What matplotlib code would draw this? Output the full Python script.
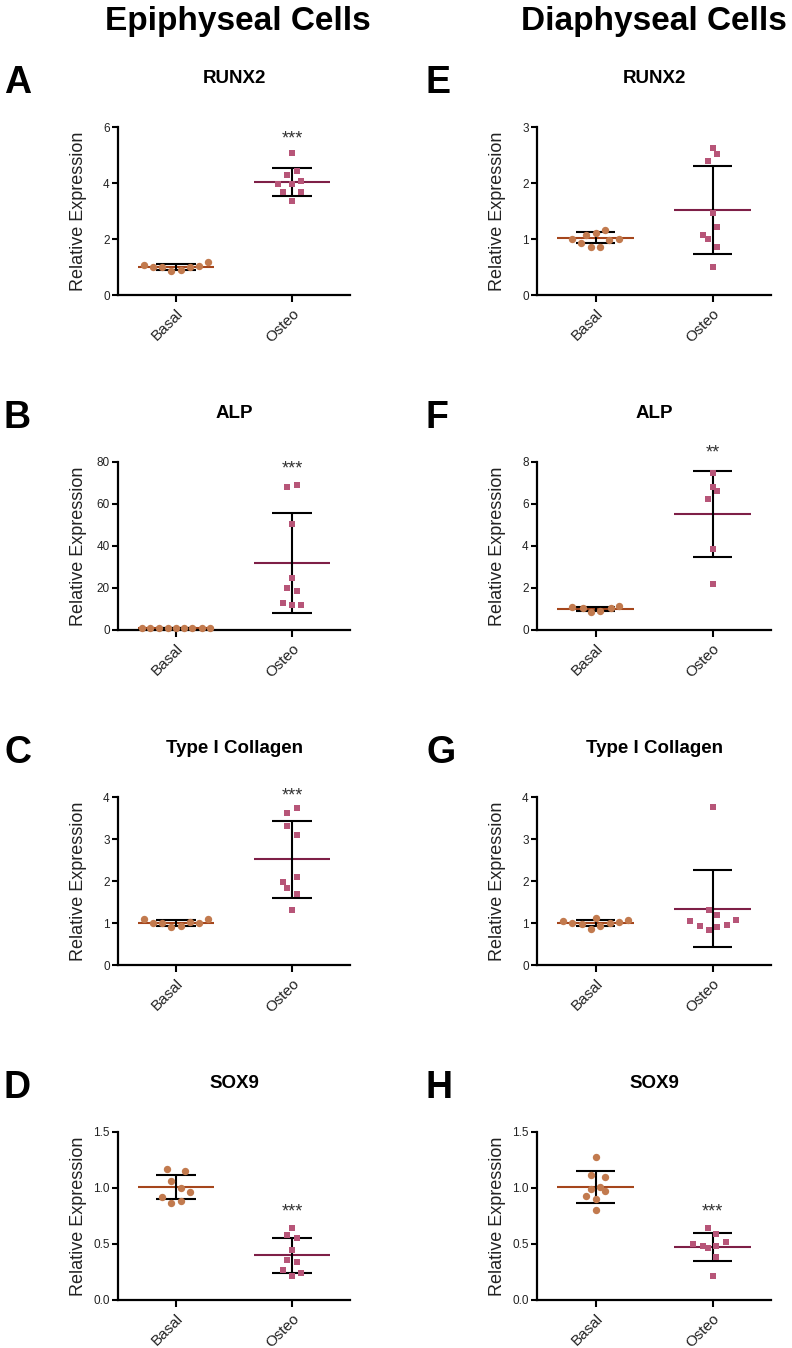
import numpy as np
import matplotlib
matplotlib.use('Agg')
import matplotlib.pyplot as plt
from matplotlib.ticker import MultipleLocator, FormatStrFormatter

plt.rcParams['font.family'] = ['Liberation Sans', 'DejaVu Sans']

GROUPS = ['Basal', 'Osteo']
GENES = ['RUNX2', 'ALP', 'Type I Collagen', 'SOX9']
HEADERS = ['Epiphyseal Cells', 'Diaphyseal Cells']
LETTERS = [['A', 'B', 'C', 'D'], ['E', 'F', 'G', 'H']]

# ── Epiphyseal (A-D): individual values ────────────────────────────────────
epi_runx2_basal = [1.06, 1.00, 1.00, 0.85, 0.90, 1.00, 1.02, 1.18]
epi_runx2_osteo = [5.07, 4.30, 4.42, 3.96, 3.95, 4.06, 3.68, 3.68, 3.37]
epi_alp_basal   = [1.05, 0.95, 1.10, 0.90, 1.00, 1.05, 0.95, 1.02, 0.98]
epi_alp_osteo   = [68.0, 69.0, 50.4, 25.0, 20.0, 18.8, 12.7, 11.8, 12.0]
epi_col1_basal  = [1.09, 1.00, 1.00, 0.90, 0.94, 1.02, 1.00, 1.10]
epi_col1_osteo  = [3.74, 3.62, 3.32, 3.10, 2.10, 1.98, 1.84, 1.69, 1.31]
epi_sox9_basal  = [1.17, 1.15, 1.06, 1.00, 0.92, 0.96, 0.87, 0.88]
epi_sox9_osteo  = [0.64, 0.58, 0.55, 0.45, 0.36, 0.34, 0.27, 0.21, 0.24]

# ── Diaphyseal (E-H): individual values ────────────────────────────────────
dia_runx2_basal = [1.00, 1.07, 1.10, 1.16, 0.93, 0.85, 0.85, 0.99, 1.00]
dia_runx2_osteo = [2.62, 2.51, 2.40, 1.46, 1.22, 1.07, 1.00, 0.85, 0.50]
dia_alp_basal   = [1.08, 1.03, 0.87, 0.92, 1.05, 1.12]
dia_alp_osteo   = [7.50, 6.79, 6.60, 6.25, 3.85, 2.18]
dia_col1_basal  = [1.04, 1.00, 0.97, 1.13, 0.85, 0.92, 1.00, 1.02, 1.08]
dia_col1_osteo  = [3.76, 1.32, 1.20, 1.04, 1.08, 0.93, 0.96, 0.84, 0.90]
dia_sox9_basal  = [1.28, 1.12, 1.10, 0.99, 1.01, 0.97, 0.93, 0.90, 0.80]
dia_sox9_osteo  = [0.64, 0.59, 0.50, 0.48, 0.46, 0.48, 0.52, 0.38, 0.21]

# horizontal scatter spread of the dots (category units)
epi_runx2_basal_dx = [-0.28, -0.20, -0.12, -0.04, 0.04, 0.12, 0.20, 0.28]
epi_runx2_osteo_dx = [0, -0.04, 0.04, -0.12, 0, 0.08, -0.08, 0.08, 0]
epi_alp_basal_dx   = [-0.29, -0.22, -0.15, -0.07, 0, 0.07, 0.14, 0.22, 0.29]
epi_alp_osteo_dx   = [-0.04, 0.04, 0, 0, -0.04, 0.04, -0.08, 0, 0.08]
epi_col1_basal_dx  = [-0.28, -0.20, -0.12, -0.04, 0.04, 0.12, 0.20, 0.28]
epi_col1_osteo_dx  = [0.04, -0.04, -0.04, 0.04, 0.04, -0.08, -0.04, 0.04, 0]
epi_sox9_basal_dx  = [-0.08, 0.08, -0.04, 0.04, -0.12, 0.12, -0.04, 0.04]
epi_sox9_osteo_dx  = [0, -0.04, 0.04, 0, -0.04, 0.04, -0.08, 0, 0.08]
dia_runx2_basal_dx = [-0.20, -0.085, 0, 0.085, -0.127, -0.042, 0.042, 0.113, 0.20]
dia_runx2_osteo_dx = [0, 0.042, -0.042, 0, 0.042, -0.085, -0.042, 0.042, 0]
dia_alp_basal_dx   = [-0.20, -0.11, -0.04, 0.04, 0.13, 0.20]
dia_alp_osteo_dx   = [0, 0, 0.042, -0.042, 0, 0]
dia_col1_basal_dx  = [-0.274, -0.198, -0.119, 0, -0.04, 0.037, 0.121, 0.198, 0.277]
dia_col1_osteo_dx  = [0, -0.034, 0.042, -0.19, 0.20, -0.11, 0.12, -0.034, 0.042]
dia_sox9_basal_dx  = [0, -0.042, 0.082, -0.042, 0.042, 0.082, -0.08, 0, 0]
dia_sox9_osteo_dx  = [-0.042, 0.034, -0.164, -0.085, -0.042, 0.034, 0.119, 0.034, 0]

# mean ± SD as drawn (Basal, Osteo)
epi_mean = [[1.00, 4.05], [1.00, 32.0], [1.00, 2.52], [1.01, 0.40]]
epi_sd   = [[0.10, 0.50], [0.10, 23.9], [0.065, 0.92], [0.11, 0.155]]
dia_mean = [[1.02, 1.52], [1.00, 5.53], [1.00, 1.34], [1.01, 0.47]]
dia_sd   = [[0.10, 0.79], [0.11, 2.04], [0.07, 0.92], [0.14, 0.125]]

epi_stars = ['***', '***', '***', '***']
dia_stars = ['', '**', '', '***']
epi_star_y = [5.75, 79.0, 4.15, 0.83]
dia_star_y = [0, 8.7, 0, 0.83]

epi_ymax = [6, 80, 4, 1.5]
dia_ymax = [3, 8, 4, 1.5]
epi_ystep = [2, 20, 1, 0.5]
dia_ystep = [1, 2, 1, 0.5]

# ─────────────────────────────────────────────────────────────────────────────

BASAL_DOT  = '#C27A4E'
OSTEO_DOT  = '#B75578'
BASAL_MEAN = '#A5461C'
OSTEO_MEAN = '#7E1F47'

W, H = 792, 1348
COL_X = [(118, 350), (537, 771)]
ROW_TOP = [127, 462, 797, 1132]
AX_H = 168


def _panel(fig, col, row, basal, osteo, bdx, odx, mean, sd,
           stars, star_y, ymax, ystep, letter, gene):
    x0, x1 = COL_X[col]
    top = ROW_TOP[row]
    ax = fig.add_axes([x0 / W, 1 - (top + AX_H) / H, (x1 - x0) / W, AX_H / H])

    for i, (m, s, c) in enumerate(zip(mean, sd, [BASAL_MEAN, OSTEO_MEAN])):
        ax.hlines(m, i - 0.33, i + 0.33, color=c, lw=1.5, zorder=2)
        ax.vlines(i, m - s, m + s, color='black', lw=1.5, zorder=2)
        ax.hlines([m - s, m + s], i - 0.17, i + 0.17, color='black', lw=1.5,
                  zorder=2)

    # dots sit on top of the mean/SD bars, as in Prism
    ax.plot(np.array(bdx), basal, 'o', color=BASAL_DOT, ms=5.3, mew=0,
            clip_on=False, zorder=3)
    ax.plot(1 + np.array(odx), osteo, 's', color=OSTEO_DOT, ms=4.7, mew=0,
            clip_on=False, zorder=3)

    if stars:
        ax.annotate(stars, xy=(1, star_y), xytext=(0, -7),
                    textcoords='offset points', ha='center', va='baseline',
                    fontsize=13, color='#333333', annotation_clip=False)

    ax.set_xlim(-0.5, 1.5)
    ax.set_ylim(0, ymax)
    ax.yaxis.set_major_locator(MultipleLocator(ystep))
    if ystep < 1:
        ax.yaxis.set_major_formatter(FormatStrFormatter('%.1f'))
    ax.tick_params(direction='out', width=1.5)
    ax.tick_params(axis='y', length=4, labelsize=8.5, labelcolor='#222222',
                   pad=2)
    ax.tick_params(axis='x', length=5, pad=3)
    ax.set_xticks([0, 1])
    ax.set_xticklabels(GROUPS, rotation=45, ha='right', va='top',
                       rotation_mode='anchor', fontsize=11, color='#222222')
    for side in ('top', 'right'):
        ax.spines[side].set_visible(False)
    for side in ('left', 'bottom'):
        ax.spines[side].set_linewidth(1.6)
    ax.set_ylabel('Relative Expression', fontsize=13, color='#222222')
    ax.yaxis.set_label_coords(-31 / (x1 - x0), 0.5)

    ax.set_title(gene, fontsize=13.5, fontweight='bold', pad=32)
    lx = 4 if col == 0 else 426
    fig.text(lx / W, 1 - (top - 34) / H, letter, ha='left', va='baseline',
             fontsize=27, fontweight='bold')
    return ax


def main():
    fig = plt.figure(figsize=(W / 100, H / 100), dpi=100)

    epi = [(epi_runx2_basal, epi_runx2_osteo, epi_runx2_basal_dx, epi_runx2_osteo_dx),
           (epi_alp_basal, epi_alp_osteo, epi_alp_basal_dx, epi_alp_osteo_dx),
           (epi_col1_basal, epi_col1_osteo, epi_col1_basal_dx, epi_col1_osteo_dx),
           (epi_sox9_basal, epi_sox9_osteo, epi_sox9_basal_dx, epi_sox9_osteo_dx)]
    dia = [(dia_runx2_basal, dia_runx2_osteo, dia_runx2_basal_dx, dia_runx2_osteo_dx),
           (dia_alp_basal, dia_alp_osteo, dia_alp_basal_dx, dia_alp_osteo_dx),
           (dia_col1_basal, dia_col1_osteo, dia_col1_basal_dx, dia_col1_osteo_dx),
           (dia_sox9_basal, dia_sox9_osteo, dia_sox9_basal_dx, dia_sox9_osteo_dx)]

    for r in range(4):
        b, o, bdx, odx = epi[r]
        _panel(fig, 0, r, b, o, bdx, odx, epi_mean[r], epi_sd[r], epi_stars[r],
               epi_star_y[r], epi_ymax[r], epi_ystep[r], LETTERS[0][r], GENES[r])
        b, o, bdx, odx = dia[r]
        _panel(fig, 1, r, b, o, bdx, odx, dia_mean[r], dia_sd[r], dia_stars[r],
               dia_star_y[r], dia_ymax[r], dia_ystep[r], LETTERS[1][r], GENES[r])

    for cx, head in zip([238, 654], HEADERS):
        fig.text(cx / W, 1 - 30 / H, head, ha='center', va='baseline',
                 fontsize=24, fontweight='bold')

    fig.savefig('out.png', dpi=100)
    plt.close(fig)


if __name__ == '__main__':
    main()
